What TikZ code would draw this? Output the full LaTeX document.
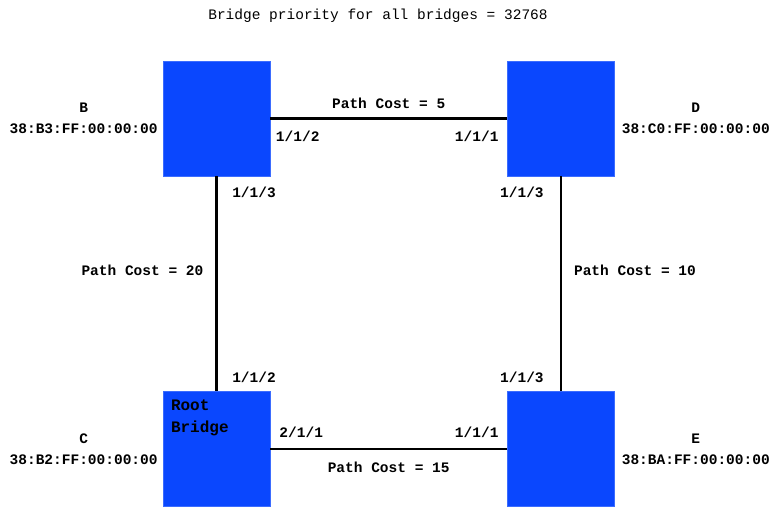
\documentclass[tikz,border=0pt]{standalone}
\usepackage{fontspec}
\setmonofont{Liberation Mono}
\usetikzlibrary{positioning}
\definecolor{bridgeblue}{RGB}{10,71,254}

\begin{document}
\begin{tikzpicture}[
    x=1pt, y=1pt,
    bridge/.style={rectangle, fill=bridgeblue, draw=bridgeblue!80!white, minimum width=107pt, minimum height=115pt, inner sep=0pt},
    mac/.style={font=\ttfamily\bfseries\fontsize{14.5}{21}\selectfont, align=center, inner sep=0pt},
    port/.style={font=\ttfamily\bfseries\fontsize{14.5}{17}\selectfont, inner sep=0pt},
    cost/.style={font=\ttfamily\bfseries\fontsize{14.5}{17}\selectfont, inner sep=0pt},
    link/.style={line width=2.3pt}
]
    \useasboundingbox (0,0) rectangle (778,514);

    \node[font=\ttfamily\fontsize{14.5}{17}\selectfont, inner sep=0pt] (title) at (378,498)
        {Bridge priority for all bridges = 32768};

    \node[bridge] (bB) at (216.5,395.5) {};
    \node[bridge, right=237pt of bB] (bD) {};
    \node[bridge, below=215pt of bB] (bC) {};
    \node[bridge, below=215pt of bD] (bE) {};

    \node[mac, left=5pt of bB] (macB) {B\\38:B3:FF:00:00:00};
    \node[mac, right=7pt of bD] (macD) {D\\38:C0:FF:00:00:00};
    \node[mac, left=5pt of bC] (macC) {C\\38:B2:FF:00:00:00};
    \node[mac, right=7pt of bE] (macE) {E\\38:BA:FF:00:00:00};

    \node[anchor=north west, align=left, inner sep=0pt,
          font=\ttfamily\bfseries\fontsize{16}{22}\selectfont] (root)
        at ([xshift=8pt,yshift=-8pt]bC.north west) {Root\\Bridge};

    \draw[link] (bB) -- node[cost, above=9pt] (cBD) {Path Cost = 5} (bD);
    \draw[link] (bC) -- node[cost, below=12pt] (cCE) {Path Cost = 15} (bE);
    \draw[link] (bB) -- node[cost, pos=0.44, left=12pt] (cBC) {Path Cost = 20} (bC);
    \draw[link] (bD) -- node[cost, pos=0.44, right=12pt] (cDE) {Path Cost = 10} (bE);

    \node[port] (pB2) at ([xshift=27.5pt,yshift=-17.5pt]bB.east) {1/1/2};
    \node[port] (pB3) at ([xshift=37.5pt,yshift=-16pt]bB.south) {1/1/3};
    \node[port] (pD1) at ([xshift=-30.5pt,yshift=-17.5pt]bD.west) {1/1/1};
    \node[port] (pD3) at ([xshift=-39pt,yshift=-16pt]bD.south) {1/1/3};
    \node[port] (pC2) at ([xshift=37.5pt,yshift=14pt]bC.north) {1/1/2};
    \node[port] (pC1) at ([xshift=31pt,yshift=17pt]bC.east) {2/1/1};
    \node[port] (pE1) at ([xshift=-30.5pt,yshift=17pt]bE.west) {1/1/1};
    \node[port] (pE3) at ([xshift=-39pt,yshift=14pt]bE.north) {1/1/3};
\end{tikzpicture}
\end{document}
